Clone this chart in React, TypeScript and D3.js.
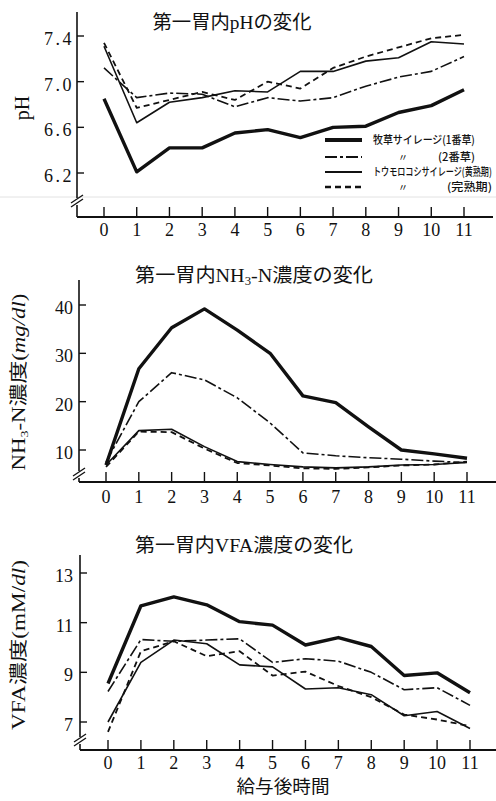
import React, { useLayoutEffect, useRef, useState } from 'react';
import * as d3 from 'd3';

const hours = [0, 1, 2, 3, 4, 5, 6, 7, 8, 9, 10, 11];

const phTicks = [6.2, 6.6, 7.0, 7.4];
const phGrass1 = [6.85, 6.21, 6.42, 6.42, 6.55, 6.58, 6.51, 6.6, 6.61, 6.73, 6.79, 6.93];
const phGrass2 = [7.12, 6.86, 6.9, 6.89, 6.78, 6.86, 6.83, 6.86, 6.96, 7.04, 7.09, 7.22];
const phCornYellow = [7.31, 6.64, 6.82, 6.86, 6.92, 6.91, 7.09, 7.09, 7.18, 7.21, 7.35, 7.33];
const phCornFull = [7.34, 6.77, 6.84, 6.91, 6.84, 7.0, 6.94, 7.12, 7.22, 7.3, 7.38, 7.41];

const nhTicks = [10, 20, 30, 40];
const nhGrass1 = [6.9, 26.8, 35.3, 39.2, 34.8, 30.0, 21.2, 19.8, 14.8, 10.0, 9.2, 8.3];
const nhGrass2 = [7.5, 20.0, 26.0, 24.5, 20.8, 15.6, 9.4, 8.8, 8.4, 8.1, 7.7, 7.4];
const nhCornYellow = [6.9, 14.0, 14.3, 10.7, 7.6, 7.0, 6.5, 6.3, 6.5, 6.9, 7.0, 7.4];
const nhCornFull = [6.5, 13.8, 13.7, 10.3, 7.3, 6.8, 6.2, 6.1, 6.4, 6.8, 7.0, 7.6];

const vfaTicks = [7, 9, 11, 13];
const vfaGrass1 = [8.55, 11.68, 12.04, 11.72, 11.04, 10.9, 10.1, 10.4, 10.04, 8.87, 8.98, 8.18];
const vfaGrass2 = [8.23, 10.32, 10.25, 10.3, 10.35, 9.4, 9.55, 9.45, 9.0, 8.3, 8.38, 7.67];
const vfaCornYellow = [7.0, 9.4, 10.3, 10.15, 9.3, 9.22, 8.33, 8.38, 8.1, 7.25, 7.42, 6.74];
const vfaCornFull = [6.6, 9.85, 10.25, 9.65, 9.85, 8.87, 9.03, 8.45, 8.0, 7.3, 7.1, 6.83];

const legendMain = ['牧草サイレージ(1番草)', '〃', 'トウモロコシサイレージ(黄熟期)', '〃'];
const legendSub = ['', '(2番草)', '', '(完熟期)'];

const SERIF = "'Liberation Serif','DejaVu Serif','Noto Sans CJK JP',serif";
const CJK = "'Noto Sans CJK JP','Noto Sans CJK SC',sans-serif";

const styles = [
  { w: 3.4, dash: undefined as string | undefined },
  { w: 1.6, dash: '12,3,3,3' },
  { w: 1.6, dash: undefined as string | undefined },
  { w: 1.8, dash: '6,4' },
];

function FitText({ x, y, width, children, fontSize = 11 }: { x: number; y: number; width: number; children: string; fontSize?: number }) {
  const ref = useRef<SVGTextElement>(null);
  const [sx, setSx] = useState(1);
  useLayoutEffect(() => {
    if (ref.current) {
      const len = ref.current.getComputedTextLength();
      if (len > 0) setSx(width / len);
    }
  }, [width, children]);
  return (
    <text
      ref={ref}
      transform={`translate(${x},${y}) scale(${sx},1)`}
      fontFamily={CJK}
      fontSize={fontSize}
      fontWeight={500}
      fill="#111"
    >
      {children}
    </text>
  );
}

type PanelProps = {
  xr: [number, number];
  yDomain: [number, number];
  yRangeV: [number, number];
  ticks: number[];
  fmt: (v: number) => string;
  series: number[][];
  axisX: number;
  axisTop: number;
  breakY: number;
  xAxisY: number;
  xLabelY: number;
  xAxisEnd: number;
  tickSpacing?: number;
  labelRight: number;
};

function Panel(p: PanelProps) {
  const x = d3.scaleLinear().domain([0, 11]).range(p.xr);
  const y = d3.scaleLinear().domain(p.yDomain).range(p.yRangeV);
  const line = d3
    .line<number>()
    .x((_, i) => x(hours[i]))
    .y((d) => y(d));
  const bx = p.axisX;
  const by = p.breakY;
  return (
    <g>
      <line x1={bx} x2={bx} y1={p.axisTop} y2={by - 2} stroke="#111" strokeWidth={1.6} />
      <line x1={bx} x2={bx} y1={by + 5} y2={p.xAxisY} stroke="#111" strokeWidth={1.6} />
      <line x1={bx - 6} y1={by + 3} x2={bx + 6} y2={by - 5} stroke="#111" strokeWidth={1.3} />
      <line x1={bx - 6} y1={by + 7} x2={bx + 6} y2={by - 1} stroke="#111" strokeWidth={1.3} />
      <line x1={bx} x2={p.xAxisEnd} y1={p.xAxisY} y2={p.xAxisY} stroke="#111" strokeWidth={1.8} />
      {hours.map((h) => (
        <g key={h}>
          <line x1={x(h)} x2={x(h)} y1={p.xAxisY - 10} y2={p.xAxisY} stroke="#111" strokeWidth={1.4} />
          <text x={x(h)} y={p.xLabelY} textAnchor="middle" fontFamily={SERIF} fontSize={18} fill="#111">
            {h}
          </text>
        </g>
      ))}
      {p.ticks.map((t) => (
        <g key={t}>
          <line x1={bx} x2={bx + 7} y1={y(t)} y2={y(t)} stroke="#111" strokeWidth={1.4} />
          <text
            x={p.labelRight}
            y={y(t) + 9}
            textAnchor="end"
            fontFamily={SERIF}
            fontSize={18}
            letterSpacing={p.tickSpacing ?? 0}
            fill="#111"
          >
            {p.fmt(t)}
          </text>
        </g>
      ))}
      {p.series.map((s, i) => (
        <path
          key={i}
          d={line(s) || ''}
          fill="none"
          stroke="#111"
          strokeWidth={styles[i].w}
          strokeDasharray={styles[i].dash}
          strokeLinejoin="round"
        />
      ))}
    </g>
  );
}

export default function App() {
  return (
    <svg width={496} height={801} style={{ position: 'fixed', left: 0, top: 0, background: '#fff' }}>
      <rect width={496} height={801} fill="#fff" />
      <line x1={0} x2={496} y1={197} y2={197} stroke="#e2e2e2" strokeWidth={1} />

      {/* Panel 1: pH */}
      <text x={232} y={29} textAnchor="middle" fontFamily={SERIF} fontSize={19} textLength={159} lengthAdjust="spacingAndGlyphs" fill="#111">
        第一胃内pHの変化
      </text>
      <text transform="translate(29,108) rotate(-90)" textAnchor="middle" fontFamily={SERIF} fontSize={20} fill="#111">
        pH
      </text>
      <Panel
        xr={[104, 464]}
        yDomain={[6.2, 7.4]}
        yRangeV={[173, 36]}
        ticks={phTicks}
        fmt={(v) => v.toFixed(1)}
        series={[phGrass1, phGrass2, phCornYellow, phCornFull]}
        axisX={77}
        axisTop={12}
        breakY={200}
        xAxisY={217}
        xLabelY={236}
        xAxisEnd={493}
        tickSpacing={2.5}
        labelRight={74}
      />
      {legendMain.map((t, i) => {
        const ly = [140, 157, 172, 187][i];
        return (
          <g key={i}>
            <line x1={325} x2={362} y1={ly} y2={ly} stroke="#111" strokeWidth={styles[i].w + 0.6} strokeDasharray={styles[i].dash} />
            {t === '〃' ? (
              <text x={403} y={ly + 4} textAnchor="middle" fontFamily={CJK} fontSize={10} fill="#111">
                {t}
              </text>
            ) : (
              <FitText x={373} y={ly + 4} width={i === 0 ? 102 : 119}>
                {t}
              </FitText>
            )}
            {legendSub[i] && (
              <FitText x={i === 1 ? 438 : 447} y={ly + 4} width={i === 1 ? 37 : 45}>
                {legendSub[i]}
              </FitText>
            )}
          </g>
        );
      })}

      {/* Panel 2: NH3-N */}
      <text x={254} y={282} textAnchor="middle" fontFamily={SERIF} fontSize={19} textLength={238} lengthAdjust="spacingAndGlyphs" fill="#111">
        第一胃内NH<tspan fontSize={12} dy={3}>3</tspan><tspan dy={-3}>-N濃度の変化</tspan>
      </text>
      <text transform="translate(25,382) rotate(-90)" textAnchor="middle" fontFamily={SERIF} fontSize={18} textLength={177} lengthAdjust="spacingAndGlyphs" fill="#111">
        NH<tspan fontSize={11} dy={3}>3</tspan><tspan dy={-3}>-N</tspan><tspan fontFamily={CJK} fill="#111">濃度</tspan>(<tspan fontStyle="italic">mg/dl</tspan>)
      </text>
      <Panel
        xr={[106, 467]}
        yDomain={[10, 40]}
        yRangeV={[450, 305]}
        ticks={nhTicks}
        fmt={(v) => String(v)}
        series={[nhGrass1, nhGrass2, nhCornYellow, nhCornFull]}
        axisX={79}
        axisTop={280}
        breakY={473}
        xAxisY={482}
        xLabelY={503}
        xAxisEnd={496}
        labelRight={73}
      />

      {/* Panel 3: VFA */}
      <text x={244} y={552} textAnchor="middle" fontFamily={SERIF} fontSize={19} textLength={218} lengthAdjust="spacingAndGlyphs" fill="#111">
        第一胃内VFA濃度の変化
      </text>
      <text transform="translate(25,645) rotate(-90)" textAnchor="middle" fontFamily={SERIF} fontSize={18} textLength={170} lengthAdjust="spacingAndGlyphs" fill="#111">
        VFA<tspan fontFamily={CJK} fill="#111">濃度</tspan>(mM/<tspan fontStyle="italic">dl</tspan>)
      </text>
      <Panel
        xr={[108, 470]}
        yDomain={[7, 13]}
        yRangeV={[722, 573]}
        ticks={vfaTicks}
        fmt={(v) => String(v)}
        series={[vfaGrass1, vfaGrass2, vfaCornYellow, vfaCornFull]}
        axisX={80}
        axisTop={555}
        breakY={739}
        xAxisY={750}
        xLabelY={769}
        xAxisEnd={496}
        labelRight={73}
      />
      <text x={283} y={793} textAnchor="middle" fontFamily={CJK} fontSize={18} textLength={93} lengthAdjust="spacingAndGlyphs" fill="#111">
        給与後時間
      </text>
    </svg>
  );
}
